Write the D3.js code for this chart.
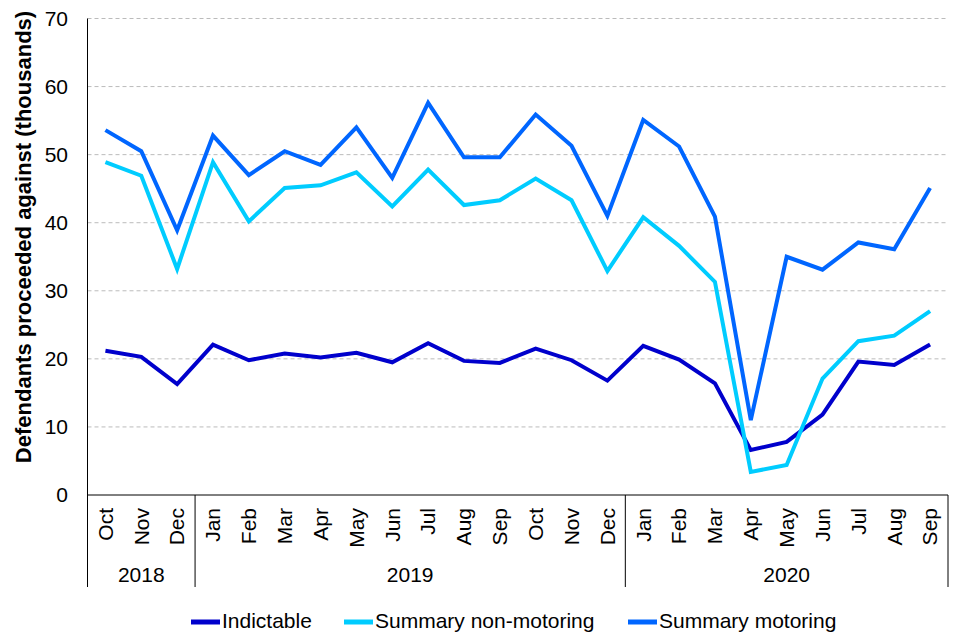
<!DOCTYPE html>
<html>
<head>
<meta charset="utf-8">
<script src="https://cdn.jsdelivr.net/npm/d3@7"></script>
<style>
  body { margin: 0; background: #fff; }
  text { font-family: "Liberation Sans", Arial, sans-serif; }
</style>
</head>
<body>
<div id="chart"></div>
<script>
// months Oct 2018 - Sep 2020
const months = ["Oct", "Nov", "Dec", "Jan", "Feb", "Mar", "Apr", "May", "Jun", "Jul", "Aug", "Sep",
  "Oct", "Nov", "Dec", "Jan", "Feb", "Mar", "Apr", "May", "Jun", "Jul", "Aug", "Sep"];
const years = [
  { label: "2018", start: 0, end: 3 },
  { label: "2019", start: 3, end: 15 },
  { label: "2020", start: 15, end: 24 }
];
const indictable = [21.2, 20.3, 16.3, 22.1, 19.8, 20.8, 20.2, 20.9, 19.5, 22.3, 19.7, 19.4,
  21.5, 19.8, 16.8, 21.9, 19.9, 16.4, 6.6, 7.8, 11.8, 19.6, 19.1, 22.1];
const nonMotoring = [48.9, 46.9, 33.2, 48.9, 40.2, 45.1, 45.5, 47.4, 42.4, 47.8, 42.6, 43.3,
  46.5, 43.3, 32.9, 40.8, 36.6, 31.3, 3.4, 4.4, 17.1, 22.6, 23.4, 27.0];
const motoring = [53.6, 50.5, 38.9, 52.8, 47.0, 50.5, 48.5, 54.0, 46.6, 57.6, 49.6, 49.6,
  55.9, 51.3, 41.0, 55.1, 51.2, 40.9, 11.0, 35.0, 33.1, 37.1, 36.1, 45.1];
const yTicks = [0, 10, 20, 30, 40, 50, 60, 70];

const series = [
  { name: "Indictable", values: indictable, color: "#0000CC" },
  { name: "Summary non-motoring", values: nonMotoring, color: "#00CCFF" },
  { name: "Summary motoring", values: motoring, color: "#0066FF" }
];

const W = 960, H = 640;
const margin = { top: 18.5, right: 12, bottom: 145, left: 87.5 };
const width = W - margin.left - margin.right;
const height = H - margin.top - margin.bottom;

const svg = d3.select("#chart").append("svg")
  .attr("width", W).attr("height", H);
const g = svg.append("g")
  .attr("transform", `translate(${margin.left},${margin.top})`);

const x = d3.scaleBand().domain(d3.range(months.length)).range([0, width]);
const y = d3.scaleLinear().domain([0, 70]).range([height, 0]);

// gridlines
g.append("g").selectAll("line")
  .data(yTicks.filter(d => d > 0))
  .join("line")
  .attr("x1", 0).attr("x2", width)
  .attr("y1", d => y(d)).attr("y2", d => y(d))
  .attr("stroke", "#bbb")
  .attr("stroke-dasharray", "4,3");

// y tick labels
g.append("g").selectAll("text")
  .data(yTicks)
  .join("text")
  .attr("x", -19.5)
  .attr("y", d => y(d))
  .attr("dy", "0.35em")
  .attr("text-anchor", "end")
  .style("font-size", "21px")
  .text(d => d);

// axes lines
g.append("line").attr("x1", 0).attr("x2", 0).attr("y1", 0).attr("y2", height)
  .attr("stroke", "#000");
g.append("line").attr("x1", 0).attr("x2", width).attr("y1", height).attr("y2", height)
  .attr("stroke", "#000");

// year separators
const sepBottom = height + 92;
g.append("g").selectAll("line")
  .data([0, 3, 15, 24])
  .join("line")
  .attr("x1", d => d === 24 ? width : x(d))
  .attr("x2", d => d === 24 ? width : x(d))
  .attr("y1", height).attr("y2", sepBottom)
  .attr("stroke", "#000");

// month labels
g.append("g").selectAll("text")
  .data(months)
  .join("text")
  .attr("transform", (d, i) => `translate(${x(i) + x.bandwidth() / 2},${height + 13}) rotate(-90)`)
  .attr("dy", "0.35em")
  .attr("text-anchor", "end")
  .style("font-size", "21px")
  .text(d => d);

// year labels
g.append("g").selectAll("text")
  .data(years)
  .join("text")
  .attr("x", d => (x(d.start) + (d.end === 24 ? width : x(d.end))) / 2)
  .attr("y", height + 87)
  .attr("text-anchor", "middle")
  .style("font-size", "21px")
  .text(d => d.label);

// lines
const line = d3.line()
  .x((d, i) => x(i) + x.bandwidth() / 2)
  .y(d => y(d));

g.append("g").selectAll("path")
  .data(series)
  .join("path")
  .attr("d", d => line(d.values))
  .attr("fill", "none")
  .attr("stroke", d => d.color)
  .attr("stroke-width", 4)
  .attr("stroke-linejoin", "miter");

// y axis title
svg.append("text")
  .attr("transform", `translate(23,237) rotate(-90)`)
  .attr("dy", "0.35em")
  .attr("text-anchor", "middle")
  .style("font-size", "22px")
  .style("font-weight", "bold")
  .text("Defendants proceeded against (thousands)");

// legend
const legendX = [191, 344, 628];
const legend = svg.append("g").selectAll("g")
  .data(series)
  .join("g")
  .attr("transform", (d, i) => `translate(${legendX[i]},622)`);
legend.append("line")
  .attr("x1", 0).attr("x2", 29)
  .attr("stroke", d => d.color)
  .attr("stroke-width", 5);
legend.append("text")
  .attr("x", 31)
  .attr("dy", "0.3em")
  .style("font-size", "21px")
  .text(d => d.name);
</script>
</body>
</html>
